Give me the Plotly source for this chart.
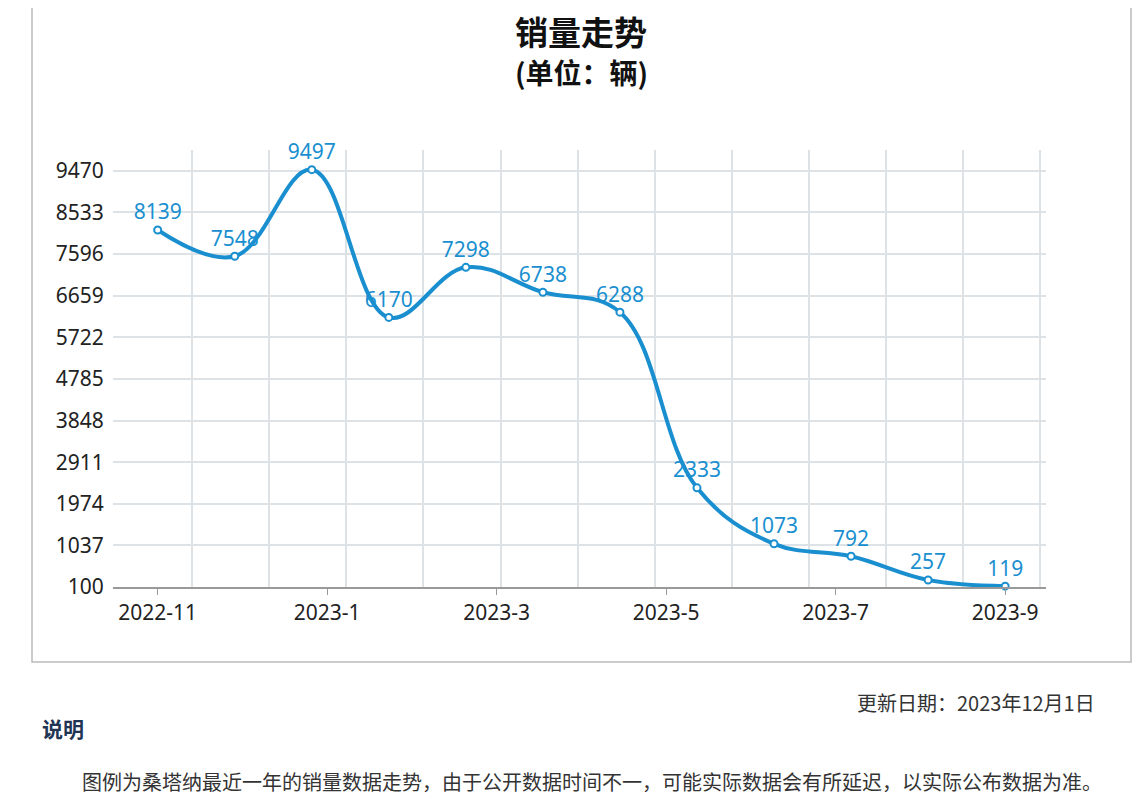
import plotly.graph_objects as go

months = ["2022-11","2022-12","2023-1","2023-2","2023-3","2023-4","2023-5","2023-6","2023-7","2023-8","2023-9","2023-10"]
sales = [8139,7548,9497,6170,7298,6738,6288,2333,1073,792,257,119]
tick_labels = ["2022-11","2023-1","2023-3","2023-5","2023-7","2023-9"]
tick_pos = [0,2.2,4.4,6.6,8.8,11]
y_ticks = [100,1037,1974,2911,3848,4785,5722,6659,7596,8533,9470]

OFF = 8
W,H = 1141-OFF,811-OFF
L,R,T,B = 113-OFF,1046-OFF,150-OFF,587-OFF
XR = [-0.58, 11.53]
fig = go.Figure()
idx = list(range(len(sales)))
fig.add_trace(go.Scatter(x=idx, y=sales, mode="lines+markers+text", line=dict(shape="spline", color="#1a8fd0", width=4, smoothing=1.1),
    marker=dict(size=7, color="white", line=dict(color="#1a8fd0", width=2)),
    text=[str(v) for v in sales], textposition="top center", textfont=dict(color="#1a8fd0", size=21, family="Noto Sans"),
    cliponaxis=False, hoverinfo="skip"))
fig.add_trace(go.Scatter(x=[0], y=[None], xaxis="x2", showlegend=False))
fig.update_layout(width=W, height=H, paper_bgcolor="white", plot_bgcolor="white", showlegend=False,
    margin=dict(l=L, r=W-R, t=T, b=H-B),
    xaxis=dict(range=XR, tickvals=tick_pos, ticktext=tick_labels, showgrid=False, showline=True, linecolor="#999", linewidth=2,
               ticks="outside", tickcolor="#999", ticklen=6, tickfont=dict(size=21, family="Noto Sans", color="#222"), zeroline=False),
    xaxis2=dict(range=XR, overlaying="x", tickvals=[k+0.45 for k in range(12)], showticklabels=False, showgrid=True,
                gridcolor="#dde2e6", gridwidth=1.5, zeroline=False),
    yaxis=dict(range=[100, 9940], tickvals=y_ticks, showgrid=True, gridcolor="#dde2e6", gridwidth=1.5, zeroline=False,
               showline=False, tickfont=dict(size=21, family="Noto Sans", color="#222"), ticks="outside", ticklen=4, tickcolor="white"),
    font=dict(family="Noto Sans CJK SC"))
pw, ph = R-L, B-T
def px(x): return (x-OFF-L)/pw
def py(y): return (B-(y-OFF))/ph
fig.add_shape(type="rect", xref="paper", yref="paper", x0=px(32), x1=px(1131), y0=py(662), y1=py(-5), line=dict(color="#bbb", width=1.5), layer="below")
anns = [
    (581, 31, "<b>销量走势</b>", 33, "#111", "center"),
    (581, 72, "<b>(单位：辆)</b>", 28, "#111", "center"),
    (1097, 702, "更新日期：2023年12月1日", 20, "#333", "right"),
    (40, 728, "<b>说明</b>", 21, "#1f3553", "left"),
    (80, 781, "图例为桑塔纳最近一年的销量数据走势，由于公开数据时间不一，可能实际数据会有所延迟，以实际公布数据为准。", 20, "#333", "left"),
]
for x,y,t,s,c,a in anns:
    fig.add_annotation(xref="paper", yref="paper", x=px(x), y=py(y), text=t, showarrow=False, xanchor=a, yanchor="middle",
                       font=dict(size=s, color=c, family="Noto Sans CJK SC"))
fig.write_html("out.html")
